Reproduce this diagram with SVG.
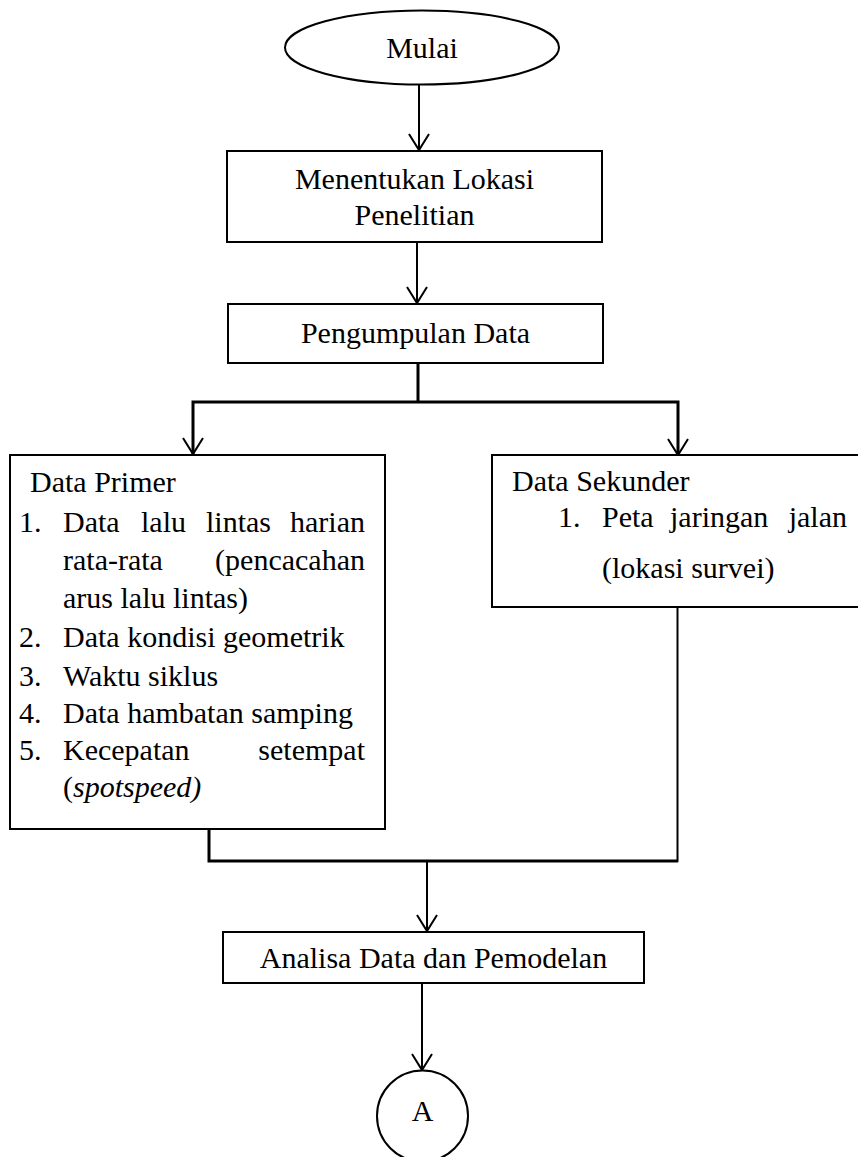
<svg xmlns="http://www.w3.org/2000/svg" width="858" height="1157" viewBox="0 0 858 1157">
  <style>
    .shape { fill: #ffffff; stroke: #000000; stroke-width: 2; }
    .line { fill: none; stroke: #000000; stroke-width: 2; }
    .thick { stroke-width: 3; }
    .label { font-family: "Liberation Serif", "Times New Roman", serif; font-size: 30px; fill: #000000; }
    .mid { text-anchor: middle; }
    .end { text-anchor: end; }
    .it { font-style: italic; }
  </style>
  <defs>
    <marker id="arrow" markerUnits="userSpaceOnUse" markerWidth="20" markerHeight="24" viewBox="-1 -1 20 24" refX="16" refY="10" orient="auto">
      <path d="M0,0 L16,10 L0,20" fill="none" stroke="#000000" stroke-width="2"/>
    </marker>
  </defs>
  <rect width="858" height="1157" fill="#ffffff"/>

  <!-- connectors -->
  <g id="connectors">
    <line class="line" x1="419" y1="85" x2="419" y2="150" marker-end="url(#arrow)"/>
    <line class="line" x1="417" y1="242" x2="417" y2="303" marker-end="url(#arrow)"/>
    <line class="line thick" x1="418" y1="363" x2="418" y2="402"/>
    <polyline class="line thick" points="193,455 193,402 678,402 678,455"/>
    <line class="line" x1="193" y1="420" x2="193" y2="454" marker-end="url(#arrow)"/>
    <line class="line" x1="678" y1="420" x2="678" y2="455" marker-end="url(#arrow)"/>
    <polyline class="line thick" points="209,829 209,861 678,861"/>
    <line class="line" x1="677.5" y1="607" x2="677.5" y2="862"/>
    <line class="line" x1="427" y1="861" x2="427" y2="931" marker-end="url(#arrow)"/>
    <line class="line" x1="422" y1="983" x2="422" y2="1070" marker-end="url(#arrow)"/>
  </g>

  <g id="mulai">
    <ellipse class="shape" cx="422" cy="47.5" rx="137" ry="37"/>
    <text class="label mid" x="422" y="58">Mulai</text>
  </g>

  <g id="lokasi">
    <rect class="shape" x="227" y="151" width="375" height="91"/>
    <text class="label mid" x="414.5" y="189">Menentukan Lokasi</text>
    <text class="label mid" x="414.5" y="225">Penelitian</text>
  </g>

  <g id="pengumpulan">
    <rect class="shape" x="228" y="304" width="375" height="59"/>
    <text class="label mid" x="415.5" y="343">Pengumpulan Data</text>
  </g>

  <g id="primer">
    <rect class="shape" x="10" y="455" width="375" height="374"/>
    <text class="label" x="30" y="492">Data Primer</text>
    <text class="label" x="19" y="532">1.</text>
    <text class="label" y="532"><tspan x="63">Data</tspan><tspan x="141">lalu</tspan><tspan x="206">lintas</tspan></text>
    <text class="label end" x="365" y="532">harian</text>
    <text class="label" x="63" y="570">rata-rata</text>
    <text class="label end" x="365" y="570">(pencacahan</text>
    <text class="label" x="63" y="608">arus lalu lintas)</text>
    <text class="label" x="19" y="647">2.</text>
    <text class="label" x="63" y="647">Data kondisi geometrik</text>
    <text class="label" x="19" y="686">3.</text>
    <text class="label" x="63" y="686">Waktu siklus</text>
    <text class="label" x="19" y="723">4.</text>
    <text class="label" x="63" y="723">Data hambatan samping</text>
    <text class="label" x="19" y="760">5.</text>
    <text class="label" x="63" y="760">Kecepatan</text>
    <text class="label end" x="365" y="760">setempat</text>
    <text class="label" x="63" y="797">(<tspan class="it">spotspeed)</tspan></text>
  </g>

  <g id="sekunder">
    <rect class="shape" x="492" y="455" width="380" height="152"/>
    <text class="label" x="512" y="491">Data Sekunder</text>
    <text class="label" x="558" y="527">1.</text>
    <text class="label" y="527"><tspan x="602">Peta</tspan><tspan x="670">jaringan</tspan></text>
    <text class="label end" x="847" y="527">jalan</text>
    <text class="label" x="602" y="578">(lokasi survei)</text>
  </g>

  <g id="analisa">
    <rect class="shape" x="223" y="932" width="421" height="51"/>
    <text class="label mid" x="433.5" y="968">Analisa Data dan Pemodelan</text>
  </g>

  <g id="connector-a">
    <circle class="shape" cx="422.5" cy="1116" r="45.5"/>
    <text class="label mid" x="422.5" y="1121">A</text>
  </g>
</svg>
